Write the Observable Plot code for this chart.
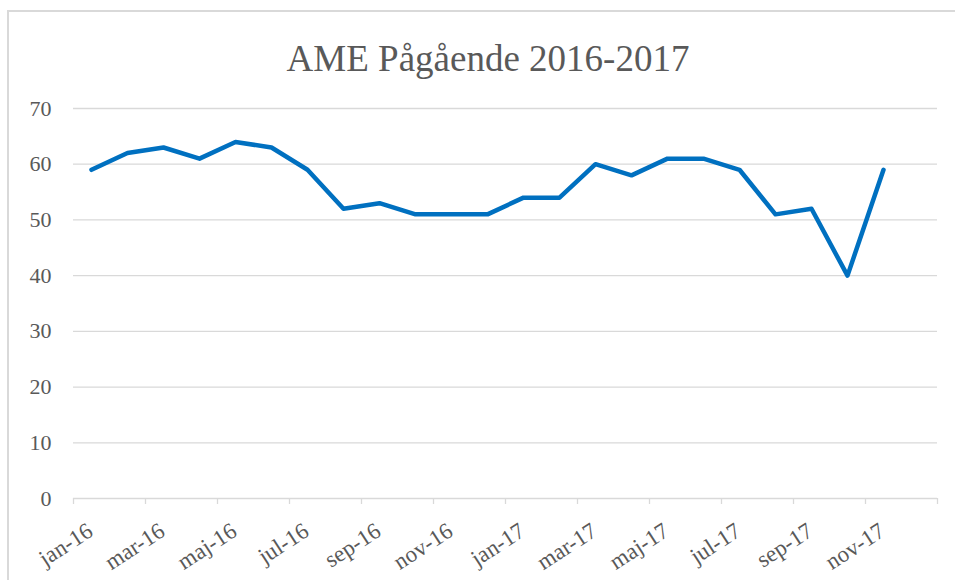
<!DOCTYPE html>
<html>
<head>
<meta charset="utf-8">
<script src="https://cdn.jsdelivr.net/npm/d3@7"></script>
<script src="https://cdn.jsdelivr.net/npm/@observablehq/plot@0.6"></script>
<style>
  html, body { margin: 0; padding: 0; background: #fff; }
  #wrap { position: relative; width: 955px; height: 580px; overflow: hidden; background: #fff; }
  #frame { position: absolute; left: 7px; top: 10px; width: 1200px; height: 1200px; border: 2px solid #d9d9d9; box-sizing: border-box; }
  #title { position: absolute; left: 0; top: 0; width: 976px; height: 90px; text-align: center;
           font-family: "Liberation Serif", "Times New Roman", serif; font-size: 37px; color: #595959;
           line-height: 1; padding-top: 40px; box-sizing: border-box; }
  #chart { position: absolute; left: 0; top: 90px; }
</style>
</head>
<body>
<div id="wrap">
  <div id="frame"></div>
  <div id="title">AME Pågående 2016-2017</div>
  <div id="chart"></div>
</div>
<script>
const months = ["jan-16","feb-16","mar-16","apr-16","maj-16","jun-16","jul-16","aug-16","sep-16","okt-16","nov-16","dec-16",
                "jan-17","feb-17","mar-17","apr-17","maj-17","jun-17","jul-17","aug-17","sep-17","okt-17","nov-17","dec-17"];
const values = [59, 62, 63, 61, 64, 63, 59, 52, 53, 51, 51, 51,
                54, 54, 60, 58, 61, 61, 59, 51, 52, 40, 59];
const yTicks = [0, 10, 20, 30, 40, 50, 60, 70];

const data = values.map((v, i) => ({idx: i + 0.5, month: months[i], value: v}));
const boundaryTicks = d3.range(0, months.length + 1, 2);
const labelData = d3.range(0, months.length, 2).map(i => ({idx: i + 0.5, label: months[i]}));

const font = '"Liberation Serif", "Times New Roman", serif';

const plot = Plot.plot({
  width: 955,
  height: 490,
  marginLeft: 73,
  marginRight: 18,
  marginTop: 18,
  marginBottom: 82,
  style: {fontFamily: font, fontSize: "22px", color: "#595959", background: "transparent", overflow: "visible"},
  x: {type: "linear", domain: [0, months.length], axis: null, label: null},
  y: {domain: [0, 70], axis: null, label: null},
  marks: [
    Plot.gridY(yTicks.filter(t => t > 0), {stroke: "#d9d9d9", strokeOpacity: 1, strokeWidth: 1.3}),
    Plot.ruleY([0], {stroke: "#d9d9d9", strokeWidth: 1.3}),
    Plot.axisY(yTicks, {tickSize: 0, tickPadding: 22, fontSize: 22, fill: "#595959", label: null, tickFormat: d => String(d)}),
    Plot.axisX(boundaryTicks, {tickSize: 6, stroke: "#d9d9d9", strokeWidth: 1.3, label: null, tickFormat: () => ""}),
    Plot.text(labelData, {x: "idx", y: () => 0, text: "label", rotate: -33, textAnchor: "end", lineAnchor: "middle",
      dy: 30, dx: -1, fontSize: 23, fill: "#595959"}),
    Plot.line(data, {x: "idx", y: "value", stroke: "#0070c0", strokeWidth: 4.5, strokeLinejoin: "round", strokeLinecap: "round"})
  ]
});
document.getElementById("chart").appendChild(plot);
</script>
</body>
</html>
